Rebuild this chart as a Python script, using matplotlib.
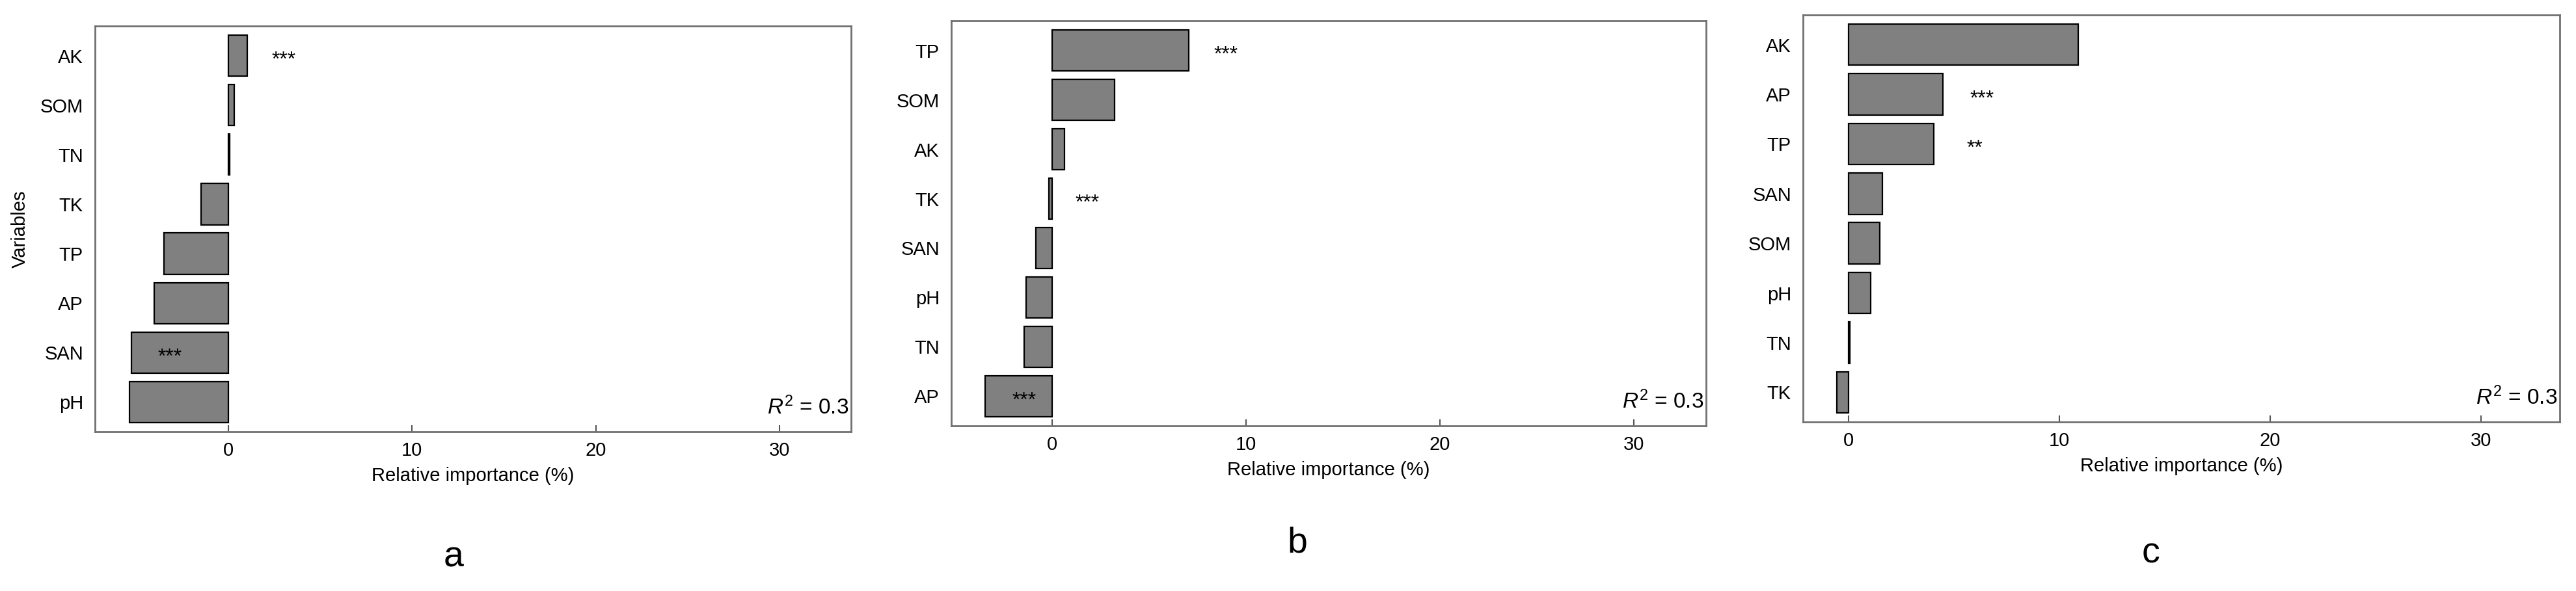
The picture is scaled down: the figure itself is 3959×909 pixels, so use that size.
import numpy as np
import matplotlib
matplotlib.use("Agg")
import matplotlib.pyplot as plt

plt.rcParams['font.family'] = ['Liberation Sans', 'DejaVu Sans']
plt.rcParams['mathtext.fontset'] = 'custom'
plt.rcParams['mathtext.rm'] = 'Liberation Sans'
plt.rcParams['mathtext.it'] = 'Liberation Sans:italic'

# panel a
vars_a = ["AK", "SOM", "TN", "TK", "TP", "AP", "SAN", "pH"]
vals_a = [1.03, 0.32, 0.06, -1.5, -3.5, -4.05, -5.26, -5.4]
stars_a = {"AK": ("***", 3.0), "SAN": ("***", -3.2)}

# panel b
vars_b = ["TP", "SOM", "AK", "TK", "SAN", "pH", "TN", "AP"]
vals_b = [7.03, 3.2, 0.62, -0.17, -0.85, -1.37, -1.45, -3.48]
stars_b = {"TP": ("***", 8.95), "TK": ("***", 1.8), "AP": ("***", -1.45)}

# panel c
vars_c = ["AK", "AP", "TP", "SAN", "SOM", "pH", "TN", "TK"]
vals_c = [10.9, 4.47, 4.04, 1.62, 1.48, 1.06, 0.06, -0.55]
stars_c = {"AP": ("***", 6.35), "TP": ("**", 6.0)}

xticks = [0, 10, 20, 30]
r2_text = r"$R^{2}$ = 0.3"

W, H = 3959, 909
fig = plt.figure(figsize=(W/100, H/100), dpi=100)

# pixel boxes (left, right, top, bottom), xlim, panel letter (x, baseline)
panels = [
    (vars_a, vals_a, stars_a, (146, 1308, 40, 664), (-7.26, 33.9), "a", (697, 872)),
    (vars_b, vals_b, stars_b, (1462, 2622, 32, 655), (-5.22, 33.74), "b", (1994, 850)),
    (vars_c, vals_c, stars_c, (2771, 3934, 23, 649), (-2.15, 33.72), "c", (3305, 865)),
]

for i, (names, vals, stars, box, xl, letter, lpos) in enumerate(panels):
    l, r, t, b = box
    ax = fig.add_axes([l/W, 1-b/H, (r-l)/W, (b-t)/H])
    y = np.arange(len(names))
    ax.barh(y, vals, height=0.83, color='#808080', edgecolor='black', linewidth=1.6)
    ax.set_ylim(len(names)-1+0.6, -0.6)
    ax.set_xlim(*xl)
    ax.set_yticks(y)
    ax.set_yticklabels(names)
    ax.set_xticks(xticks)
    ax.tick_params(axis='y', length=0, pad=13, labelsize=21)
    ax.tick_params(axis='x', direction='in', length=7, width=1.5, color='#555555',
                   pad=11, labelsize=21)
    for s in ax.spines.values():
        s.set_color('#707070')
        s.set_linewidth(2)
    for name, (txt, xs) in stars.items():
        ax.text(xs, names.index(name) + 0.1, txt, ha='center', va='center', fontsize=23)
    ax.text(0.997, 0.043, r2_text, transform=ax.transAxes, ha='right', va='baseline',
            fontsize=24)
    ax.set_xlabel("Relative importance (%)", fontsize=21, labelpad=8)
    if i == 0:
        ax.set_ylabel("Variables", fontsize=21, labelpad=12)
    fig.text(lpos[0]/W, 1-lpos[1]/H, letter, ha='center', va='baseline', fontsize=40)

fig.savefig("out.png", dpi=100)
